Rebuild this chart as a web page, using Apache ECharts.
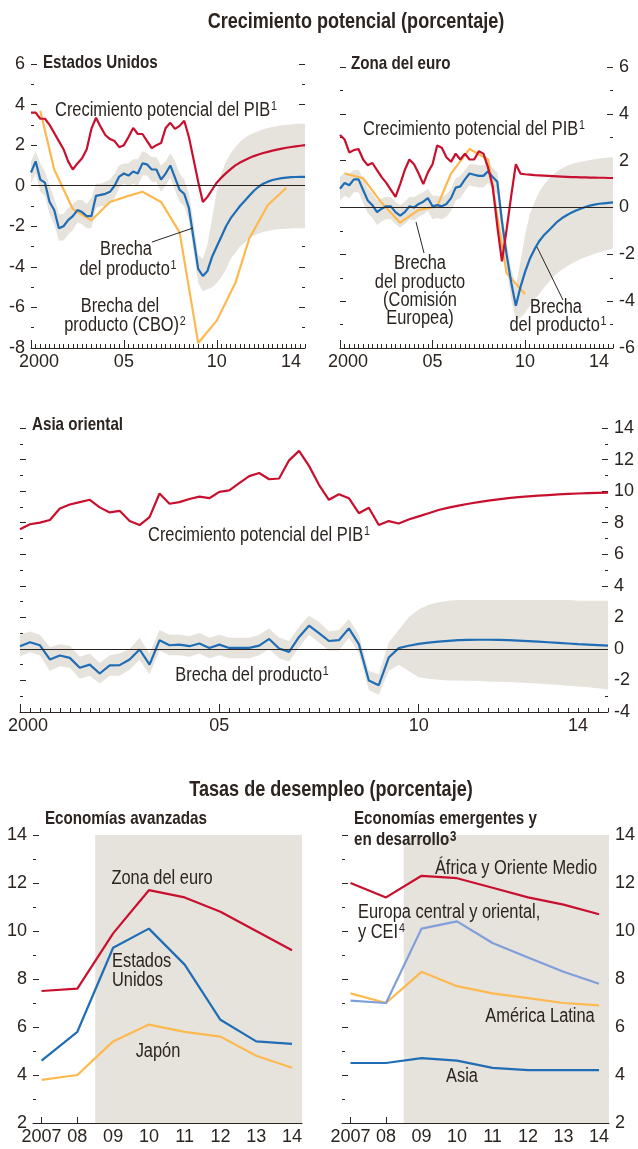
<!DOCTYPE html>
<html>
<head>
<meta charset="utf-8">
<script src="https://cdn.jsdelivr.net/npm/echarts@6/dist/echarts.min.js"></script>
<style>
html, body { margin: 0; padding: 0; background: #fff; }
#chart { width: 638px; height: 1149px; }
</style>
</head>
<body>
<div id="chart"></div>
<script>
const FONT = '"Liberation Sans", Arial, sans-serif';
const INK = '#2b2420';
const RED = '#c8102e';
const BLUE = '#1f6db5';
const GOLD = '#fdb94f';
const LIGHTBLUE = '#7f9fdb';
const BAND = '#e6e2dc';
const NARROW = 0.82; // condensed look for free text

// quarterly categories 2000Q1 .. 2014Q4
const quarters = [];
for (let y = 2000; y <= 2014; y++) for (let q = 1; q <= 4; q++) quarters.push(y + 'Q' + q);
const quarterTickLabels = { '2000Q1': '2000', '2005Q1': '05', '2010Q1': '10', '2014Q1': '14' };

// Estados Unidos
const usPotential = [3.6, 3.6, 3.3, 3.3, 3.0, 2.6, 2.2, 1.8, 1.2, 0.8,
  1.1, 1.35, 1.8, 2.8, 3.35, 2.9, 2.5, 2.3, 2.2, 1.9,
  2.0, 2.4, 2.85, 2.55, 2.55, 2.2, 1.85, 2.0, 2.1, 2.85,
  3.1, 2.8, 2.95, 3.2, 2.4, 1.3, 0.2, -0.8, -0.55, -0.2,
  0.15, 0.4, 0.62, 0.82, 1.0, 1.14, 1.26, 1.37, 1.46, 1.54,
  1.61, 1.67, 1.73, 1.78, 1.83, 1.87, 1.91, 1.94, 1.97, 2.0];
const usGap = [0.65, 1.2, 0.3, 0.15, -0.8, -1.2, -2.1, -2.0, -1.7, -1.5,
  -1.2, -1.3, -1.5, -1.5, -0.5, -0.45, -0.4, -0.3, 0.0, 0.45,
  0.6, 0.5, 0.7, 0.6, 1.1, 1.05, 0.8, 0.8, 0.3, 0.6,
  1.0, 0.4, -0.2, -0.4, -1.1, -2.6, -4.1, -4.45, -4.2, -3.5,
  -3.0, -2.5, -2.0, -1.6, -1.3, -1.0, -0.75, -0.5, -0.25, -0.05,
  0.1, 0.2, 0.28, 0.33, 0.37, 0.4, 0.42, 0.43, 0.44, 0.44];
const usGapHigh = [1.2, 1.7, 1.1, 0.7, 0.0, -0.6, -1.4, -1.4, -1.1, -0.9,
  -0.7, -0.7, -0.9, -0.6, 0.1, 0.1, 0.2, 0.3, 0.6, 1.0,
  1.1, 1.1, 1.3, 1.3, 1.7, 1.6, 1.4, 1.4, 1.0, 1.2,
  1.6, 1.2, 0.6, 0.3, -0.4, -1.8, -3.4, -3.6, -2.9, -1.6,
  -0.3, 0.6, 1.2, 1.6, 1.9, 2.15, 2.35, 2.5, 2.6, 2.7,
  2.78, 2.84, 2.9, 2.94, 2.98, 3.0, 3.02, 3.04, 3.05, 3.06];
const usGapLow = [0.1, 0.6, -0.3, -0.5, -1.4, -1.9, -2.7, -2.7, -2.4, -2.2,
  -1.8, -1.9, -2.1, -2.1, -1.1, -1.0, -1.0, -0.9, -0.6, -0.1,
  0.1, 0.0, 0.1, 0.0, 0.5, 0.5, 0.2, 0.2, -0.3, 0.0,
  0.4, -0.2, -0.8, -1.0, -1.7, -3.2, -4.8, -5.2, -5.1, -5.0,
  -4.8, -4.5, -4.1, -3.6, -3.3, -3.0, -2.8, -2.6, -2.45, -2.35,
  -2.28, -2.22, -2.18, -2.15, -2.13, -2.12, -2.11, -2.1, -2.1, -2.1];
const usCboQuarters = ['2000Q3', '2001Q2', '2002Q2', '2003Q2', '2004Q2', '2005Q2', '2006Q1', '2007Q1',
  '2008Q1', '2009Q1', '2010Q1', '2011Q1', '2011Q4', '2012Q4', '2013Q4'];
const usCbo = [3.7, 0.8, -1.15, -1.7, -0.8, -0.5, -0.3, -0.8, -2.3, -7.75, -6.65, -4.8, -2.6, -0.95, -0.1];

// Zona del euro
const euroPotential = [3.1, 2.9, 2.35, 2.45, 2.5, 2.05, 1.8, 1.9, 1.6, 1.3,
  1.05, 0.75, 0.45, 1.0, 1.6, 2.05, 1.85, 1.45, 1.0, 1.5,
  1.85, 2.65, 2.55, 2.15, 1.95, 2.3, 2.05, 2.3, 2.05, 2.05,
  2.4, 2.3, 1.7, 0.9, -0.8, -2.3, -0.95, 0.5, 1.85, 1.45,
  1.42, 1.4, 1.38, 1.37, 1.36, 1.35, 1.34, 1.33, 1.32, 1.31,
  1.3, 1.3, 1.29, 1.29, 1.28, 1.28, 1.27, 1.27, 1.26, 1.26];
const euroGap = [0.8, 1.05, 0.95, 1.2, 1.2, 0.75, 0.3, 0.1, -0.2, -0.05,
  0.05, 0.05, -0.2, -0.35, -0.2, 0.05, 0.0, 0.15, 0.25, 0.4,
  0.05, 0.1, 0.05, 0.15, 0.4, 0.85, 0.9, 1.2, 1.45, 1.4,
  1.35, 1.35, 1.55, 1.3, 1.1, -0.6, -2.0, -3.2, -4.2, -3.4,
  -2.75, -2.2, -1.8, -1.45, -1.2, -1.0, -0.8, -0.6, -0.45, -0.33,
  -0.22, -0.13, -0.05, 0.02, 0.08, 0.12, 0.16, 0.18, 0.2, 0.22];
const euroGapHigh = [1.3, 1.5, 1.45, 1.6, 1.6, 1.25, 0.8, 0.6, 0.3, 0.4,
  0.45, 0.45, 0.25, 0.1, 0.25, 0.45, 0.45, 0.55, 0.65, 0.8,
  0.5, 0.5, 0.45, 0.55, 0.8, 1.25, 1.35, 1.6, 1.85, 1.85,
  1.8, 1.8, 1.95, 1.7, 1.5, -0.1, -1.5, -2.6, -3.4, -2.3,
  -1.2, -0.3, 0.2, 0.65, 0.95, 1.2, 1.4, 1.55, 1.68, 1.78,
  1.85, 1.9, 1.95, 1.99, 2.03, 2.06, 2.09, 2.11, 2.13, 2.15];
const euroGapLow = [0.3, 0.5, 0.4, 0.65, 0.65, 0.2, -0.25, -0.45, -0.75, -0.6,
  -0.5, -0.5, -0.7, -0.85, -0.7, -0.5, -0.55, -0.4, -0.3, -0.15,
  -0.5, -0.45, -0.5, -0.4, -0.15, 0.3, 0.4, 0.7, 0.95, 0.9,
  0.85, 0.85, 1.05, 0.8, 0.55, -1.2, -2.6, -3.9, -4.8, -4.7,
  -4.5, -4.2, -3.95, -3.7, -3.45, -3.2, -3.0, -2.8, -2.65, -2.52,
  -2.4, -2.3, -2.2, -2.12, -2.05, -1.98, -1.92, -1.86, -1.8, -1.75];
const euroEcQuarters = ['2000Q2', '2001Q2', '2002Q2', '2003Q2', '2004Q2', '2005Q2', '2006Q1', '2007Q1',
  '2008Q1', '2009Q1', '2010Q1'];
const euroEc = [1.45, 1.25, 0.2, -0.65, -0.1, 0.05, 1.45, 2.5, 2.05, -2.8, -3.7];

// Asia oriental
const asiaPotential = [7.58, 7.9, 8.0, 8.17, 8.9, 9.15, 9.3, 9.45, 8.97, 8.65,
  8.75, 8.1, 7.85, 8.35, 9.85, 9.2, 9.3, 9.5, 9.65, 9.55,
  9.95, 10.05, 10.5, 10.95, 11.15, 10.75, 10.8, 11.95, 12.55, 11.6,
  10.4, 9.45, 9.8, 9.55, 8.6, 8.95, 7.85, 8.1, 7.95, 8.2,
  8.4, 8.6, 8.8, 8.95, 9.08, 9.2, 9.3, 9.4, 9.48, 9.55,
  9.62, 9.67, 9.71, 9.75, 9.79, 9.82, 9.85, 9.87, 9.89, 9.91];
const asiaGap = [0.17, 0.42, 0.23, -0.67, -0.42, -0.57, -1.2, -1.0, -1.56, -1.05,
  -1.03, -0.67, -0.04, -1.0, 0.55, 0.23, 0.27, 0.17, 0.34, 0.06,
  0.27, 0.06, 0.06, 0.06, 0.21, 0.63, 0.02, -0.19, 0.76, 1.47,
  1.0, 0.5, 0.55, 1.3, 0.3, -2.0, -2.3, -0.55, 0.05, 0.2,
  0.32, 0.4, 0.46, 0.51, 0.55, 0.57, 0.58, 0.58, 0.57, 0.55,
  0.52, 0.49, 0.46, 0.42, 0.38, 0.34, 0.3, 0.27, 0.24, 0.21];
const asiaGapHigh = [0.9, 1.1, 0.9, 0.1, 0.3, 0.2, -0.5, -0.3, -0.9, -0.4,
  -0.3, 0.0, 0.7, -0.3, 1.2, 0.9, 0.9, 0.8, 1.0, 0.7,
  0.9, 0.7, 0.7, 0.7, 0.9, 1.3, 0.7, 0.5, 1.4, 2.1,
  1.7, 1.1, 1.2, 1.9, 0.9, -1.4, -1.6, 0.4, 1.2, 2.0,
  2.5, 2.8, 2.95, 3.05, 3.1, 3.1, 3.1, 3.1, 3.1, 3.1,
  3.1, 3.1, 3.1, 3.1, 3.1, 3.1, 3.05, 3.05, 3.05, 3.05];
const asiaGapLow = [-0.5, -0.2, -0.4, -1.4, -1.1, -1.2, -1.9, -1.7, -2.2, -1.7,
  -1.7, -1.3, -0.7, -1.6, -0.1, -0.4, -0.4, -0.5, -0.3, -0.6,
  -0.4, -0.6, -0.6, -0.6, -0.4, 0.0, -0.6, -0.8, 0.1, 0.9,
  0.4, -0.1, -0.1, 0.7, -0.3, -2.6, -2.9, -1.4, -1.0, -1.4,
  -1.8, -1.9, -1.95, -2.0, -2.0, -2.02, -2.04, -2.06, -2.08, -2.1,
  -2.13, -2.16, -2.2, -2.24, -2.28, -2.33, -2.38, -2.43, -2.5, -2.57];

// Tasas de desempleo
const years = [2007, 2008, 2009, 2010, 2011, 2012, 2013, 2014];
const advEuro = [7.5, 7.6, 9.9, 11.7, 11.4, 10.8, 10.0, 9.2];
const advUS = [4.6, 5.8, 9.3, 10.1, 8.6, 6.3, 5.4, 5.3];
const advJapan = [3.8, 4.0, 5.4, 6.1, 5.8, 5.6, 4.8, 4.3];
const emAfricaME = [12.0, 11.4, 12.3, 12.2, 11.8, 11.4, 11.1, 10.7];
const emEuropeCis = [7.1, 7.0, 10.1, 10.4, 9.5, 8.9, 8.3, 7.8];
const emLatAm = [7.4, 7.0, 8.3, 7.7, 7.4, 7.2, 7.0, 6.9];
const emAsia = [4.5, 4.5, 4.7, 4.6, 4.3, 4.2, 4.2, 4.2];
const forecastStart = 2008.5;
const yearMin = 2006.76, yearMax = 2014.28;

const axisText = { color: INK, fontFamily: FONT, fontSize: 18 };

function quarterXAxes(gi) {
  return [{
    gridIndex: gi, type: 'category', data: quarters, boundaryGap: false, position: 'bottom',
    axisLine: { show: true, onZero: false, lineStyle: { color: INK, width: 1 } },
    axisTick: { show: true, inside: true, length: 4, interval: 0, lineStyle: { color: INK } },
    axisLabel: {
      interval: 0, margin: 5,
      formatter: q => q === '2000Q1' ? '{f|2000}' : (quarterTickLabels[q] || ''),
      ...axisText,
      rich: { f: { ...axisText, padding: [0, 0, 0, 16] } }
    }
  }, {
    // longer ticks at 2000, 2005 and 2010
    gridIndex: gi, type: 'category', data: quarters, boundaryGap: false, position: 'bottom', offset: 0,
    axisLine: { show: false, onZero: false },
    axisTick: { show: true, inside: true, length: 8, interval: i => i === 0 || i === 20 || i === 40, lineStyle: { color: INK } },
    axisLabel: { show: false }
  }];
}

function yearXAxis(gi) {
  return {
    gridIndex: gi, type: 'value', min: yearMin, max: yearMax, position: 'bottom',
    axisLine: { show: true, onZero: false, lineStyle: { color: INK, width: 1 } },
    splitLine: { show: false },
    axisTick: { show: true, inside: true, length: 6, customValues: years, lineStyle: { color: INK } },
    axisLabel: { customValues: years, margin: 5, formatter: v => v === 2007 ? '2007' : String(v).slice(2), ...axisText }
  };
}

function yAxes(gi, min, max, labelSide) {
  return ['left', 'right'].map(side => ({
    gridIndex: gi, type: 'value', min, max, interval: 2, position: side,
    axisLine: { show: false }, splitLine: { show: false },
    axisTick: { show: true, inside: true, length: 6, lineStyle: { color: INK } },
    minorTick: { show: true, splitNumber: 2, length: 3, lineStyle: { color: INK } },
    axisLabel: { show: side === labelSide, margin: 6, ...axisText }
  }));
}

const grids = [
  { left: 31, top: 64, width: 274, height: 284 },
  { left: 340, top: 67, width: 275, height: 281 },
  { left: 20, top: 428, width: 588, height: 284 },
  { left: 33, top: 835, width: 269, height: 288 },
  { left: 342, top: 835, width: 271, height: 288 }
];

const xAxes = [
  ...quarterXAxes(0), ...quarterXAxes(1), ...quarterXAxes(2),
  yearXAxis(3), yearXAxis(4)
];
const yAxesAll = [
  ...yAxes(0, -8, 6, 'left'), ...yAxes(1, -6, 6, 'right'), ...yAxes(2, -4, 14, 'right'),
  ...yAxes(3, 2, 14, 'left'), ...yAxes(4, 2, 14, 'right')
];

function line(xi, yi, data, color, z, extra) {
  return Object.assign({
    type: 'line', xAxisIndex: xi, yAxisIndex: yi, data, symbol: 'none', silent: true,
    lineStyle: { color, width: 2.2 }, z
  }, extra || {});
}

function band(xi, yi, low, high, key) {
  return [
    { type: 'line', xAxisIndex: xi, yAxisIndex: yi, stack: key, stackStrategy: 'all', data: low,
      symbol: 'none', silent: true, lineStyle: { opacity: 0 }, z: 1 },
    { type: 'line', xAxisIndex: xi, yAxisIndex: yi, stack: key, stackStrategy: 'all',
      data: high.map((v, i) => +(v - low[i]).toFixed(3)),
      symbol: 'none', silent: true, lineStyle: { opacity: 0 }, areaStyle: { color: BAND, opacity: 1 }, z: 1 }
  ];
}

const zeroLine = {
  silent: true, symbol: 'none', label: { show: false },
  lineStyle: { color: INK, width: 1, type: 'solid' }, data: [{ yAxis: 0 }]
};
const shade = {
  silent: true, itemStyle: { color: BAND }, data: [[{ xAxis: forecastStart }, { xAxis: yearMax }]]
};
const pairs = (xs, ys) => xs.map((x, i) => [x, ys[i]]);

const series = [
  // Estados Unidos
  ...band(0, 0, usGapLow, usGapHigh, 'usBand'),
  line(0, 0, pairs(usCboQuarters, usCbo), GOLD, 2, { markLine: zeroLine }),
  line(0, 0, usGap, BLUE, 3),
  line(0, 0, usPotential, RED, 4),
  // Zona del euro
  ...band(2, 2, euroGapLow, euroGapHigh, 'euBand'),
  line(2, 2, pairs(euroEcQuarters, euroEc), GOLD, 2, { markLine: zeroLine }),
  line(2, 2, euroGap, BLUE, 3),
  line(2, 2, euroPotential, RED, 4),
  // Asia oriental
  ...band(4, 4, asiaGapLow, asiaGapHigh, 'asBand'),
  line(4, 4, asiaGap, BLUE, 3, { markLine: zeroLine }),
  line(4, 4, asiaPotential, RED, 4),
  // Economías avanzadas
  line(6, 6, pairs(years, advJapan), GOLD, 2, { markArea: shade }),
  line(6, 6, pairs(years, advUS), BLUE, 3),
  line(6, 6, pairs(years, advEuro), RED, 4),
  // Economías emergentes
  line(7, 8, pairs(years, emLatAm), GOLD, 2, { markArea: shade }),
  line(7, 8, pairs(years, emAsia), BLUE, 3),
  line(7, 8, pairs(years, emEuropeCis), LIGHTBLUE, 3),
  line(7, 8, pairs(years, emAfricaME), RED, 4)
];

const textRich = {
  t: { fontFamily: FONT, fontSize: 20, color: INK },
  s: { fontFamily: FONT, fontSize: 13, color: INK, verticalAlign: 'bottom', padding: [0, 0, 8, 1] },
  bs: { fontFamily: FONT, fontSize: 14, fontWeight: 'bold', color: INK, verticalAlign: 'bottom', padding: [0, 0, 6, 1] },
  b: { fontFamily: FONT, fontSize: 18.5, fontWeight: 'bold', color: INK }
};
function label(x, y, str, sup, align) {
  return {
    type: 'text', x, y, z: 100, silent: true, scaleX: NARROW,
    style: {
      text: '{t|' + str + '}' + (sup ? '{s|' + sup + '}' : ''),
      rich: textRich, align: align || 'center', verticalAlign: 'middle', fill: INK
    }
  };
}
function heading(x, y, str, size, align, sup) {
  return {
    type: 'text', x, y, z: 100, silent: true, scaleX: NARROW,
    style: sup ? {
      text: '{b|' + str + '}{bs|' + sup + '}', rich: textRich,
      align: align || 'left', verticalAlign: 'middle', fill: INK
    } : {
      text: str, fontFamily: FONT, fontWeight: 'bold', fontSize: size, fill: INK,
      align: align || 'left', verticalAlign: 'middle'
    }
  };
}
function leader(x1, y1, x2, y2) {
  return { type: 'line', z: 100, silent: true, shape: { x1, y1, x2, y2 }, style: { stroke: INK, lineWidth: 1 } };
}

const graphics = [
  heading(356, 22, 'Crecimiento potencial (porcentaje)', 22, 'center'),
  heading(331, 790, 'Tasas de desempleo (porcentaje)', 22, 'center'),
  heading(43, 63, 'Estados Unidos', 18.5),
  heading(351, 64, 'Zona del euro', 18.5),
  heading(32, 425, 'Asia oriental', 18.5),
  heading(45, 819, 'Economías avanzadas', 18.5),
  heading(354, 819, 'Economías emergentes y', 18.5),
  heading(354, 840, 'en desarrollo', 18.5, 'left', '3'),
  // Estados Unidos
  label(166, 110, 'Crecimiento potencial del PIB', '1'),
  label(126, 249, 'Brecha'),
  label(128, 269, 'del producto', '1'),
  label(120, 306, 'Brecha del'),
  label(125, 325, 'producto (CBO)', '2'),
  leader(152, 242, 193, 228),
  // Zona del euro
  label(474, 129, 'Crecimiento potencial del PIB', '1'),
  label(420, 263, 'Brecha'),
  label(420, 282, 'del producto'),
  label(420, 300, '(Comisión'),
  label(420, 318, 'Europea)'),
  leader(416, 222, 424, 253),
  label(556, 307, 'Brecha'),
  label(558, 325, 'del producto', '1'),
  leader(537, 247, 563, 300),
  // Asia oriental
  label(259, 535, 'Crecimiento potencial del PIB', '1'),
  label(252, 675, 'Brecha del producto', '1'),
  // Desempleo
  label(162, 878, 'Zona del euro'),
  label(112, 961, 'Estados', null, 'left'),
  label(112, 980, 'Unidos', null, 'left'),
  label(158, 1051, 'Japón'),
  label(516, 868, 'África y Oriente Medio'),
  label(358, 912, 'Europa central y oriental,', null, 'left'),
  label(358, 932, 'y CEI', '4', 'left'),
  label(540, 1016, 'América Latina'),
  label(462, 1076, 'Asia')
];

const chart = echarts.init(document.getElementById('chart'), null, { renderer: 'canvas' });
chart.setOption({
  animation: false,
  backgroundColor: '#fff',
  grid: grids,
  xAxis: xAxes,
  yAxis: yAxesAll,
  series,
  graphic: graphics
});
</script>
</body>
</html>
